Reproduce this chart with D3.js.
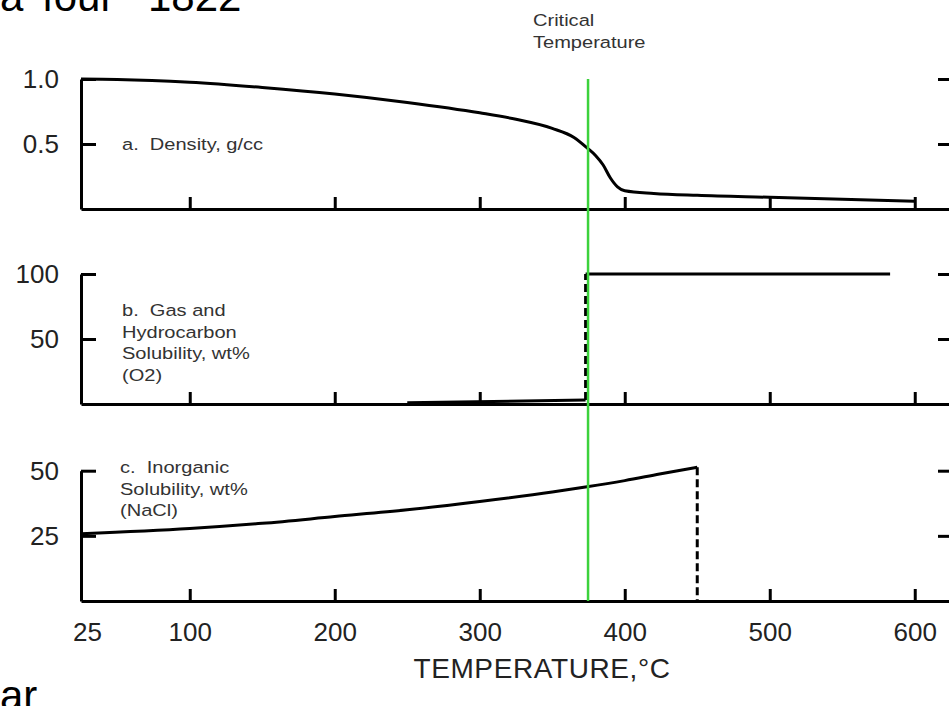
<!DOCTYPE html>
<html>
<head>
<meta charset="utf-8">
<script src="https://cdn.jsdelivr.net/npm/d3@7"></script>
<style>
body{margin:0;background:#fff}
svg{display:block}
text{font-family:"Liberation Sans",Arial,sans-serif}
</style>
</head>
<body>
<svg id="chart" width="949" height="706"></svg>
<script>
// temperatures, deg C
const xTicks = [25, 100, 200, 300, 400, 500, 600];
const critTemp = 374;

// a. density, g/cc
const densTemps = [25, 50, 100, 150, 200, 250, 300, 325, 350, 365, 374, 380, 385, 390, 395, 400, 420, 450, 500, 550, 600];
const densVals  = [1.00, 0.997, 0.975, 0.935, 0.885, 0.82, 0.74, 0.69, 0.62, 0.55, 0.47, 0.41, 0.34, 0.24, 0.17, 0.14, 0.12, 0.105, 0.09, 0.075, 0.06];

// b. gas solubility, wt%
const gasLowTemps = [250, 373];
const gasLowVals  = [1, 3];
const gasHighTemps = [373, 583];
const gasHighVals  = [100, 100];

// c. NaCl solubility, wt%
const naclTemps = [25, 100, 150, 200, 250, 300, 350, 374, 400, 424, 450];
const naclVals  = [25.8, 27.8, 29.8, 32.4, 35, 38.2, 41.8, 43.8, 46.2, 48.7, 51.3];

const svg = d3.select("#chart");

var x = d3.scaleLinear().domain([25, 625]).range([81, 951]);

var panels = [
	{top: 79,  bottom: 209, max: 1.0, ticks: [0.5, 1.0], fmt: d3.format(".1f")},
	{top: 274, bottom: 404, max: 100, ticks: [50, 100],  fmt: d3.format("d")},
	{top: 470.7, bottom: 601, max: 50, ticks: [25, 50],  fmt: d3.format("d")}
];

function styleAxis(g){
	g.attr("font-family", null).attr("font-size", null);
	g.selectAll("path,line").attr("stroke", "#000").attr("stroke-width", 3);
	g.selectAll("text").attr("font-size", 26).attr("fill", "#222");
}

panels.forEach(function(p, i){
	p.y = d3.scaleLinear().domain([0, p.max]).range([p.bottom, p.top]);

	svg.append("g")
		.attr("transform", "translate(" + x(25) + ",0)")
		.call(d3.axisLeft(p.y).tickValues(p.ticks).tickSizeInner(-15).tickSizeOuter(0).tickPadding(22).tickFormat(p.fmt))
		.call(styleAxis);

	svg.append("g")
		.attr("transform", "translate(" + x(625) + ",0)")
		.call(d3.axisRight(p.y).tickValues(p.ticks).tickSizeInner(-13).tickSizeOuter(0).tickFormat(""))
		.call(styleAxis);

	var bx = d3.axisBottom(x).tickValues(xTicks).tickSizeInner(-12).tickSizeOuter(0).tickPadding(22);
	if (i < 2) bx.tickFormat("");
	var gx = svg.append("g")
		.attr("transform", "translate(0," + p.bottom + ")")
		.call(bx)
		.call(styleAxis);
	gx.selectAll(".tick text").filter(function(d){ return d == 25; }).attr("dx", 6);
});

function drawLine(p, xs, ys, curve, dash){
	var line = d3.line()
		.x(function(d){ return x(d[0]); })
		.y(function(d){ return p.y(d[1]); })
		.curve(curve || d3.curveLinear);
	svg.append("path")
		.datum(d3.zip(xs, ys))
		.attr("d", line)
		.attr("fill", "none")
		.attr("stroke", "#000")
		.attr("stroke-width", 3)
		.attr("stroke-dasharray", dash || null);
}

// a
drawLine(panels[0], densTemps, densVals, d3.curveMonotoneX);
// b
drawLine(panels[1], gasLowTemps, gasLowVals);
drawLine(panels[1], [gasLowTemps[1], gasHighTemps[0]], [gasLowVals[1], gasHighVals[0]], null, "8,4");
drawLine(panels[1], gasHighTemps, gasHighVals);
// c
drawLine(panels[2], naclTemps, naclVals, d3.curveMonotoneX);
drawLine(panels[2], [naclTemps[naclTemps.length-1], naclTemps[naclTemps.length-1]], [naclVals[naclVals.length-1], 0], null, "8,4");

// critical temperature marker
svg.append("line")
	.attr("x1", x(critTemp) + 1).attr("x2", x(critTemp) + 1)
	.attr("y1", panels[0].top).attr("y2", panels[2].bottom)
	.attr("stroke", "#3cd23c")
	.attr("stroke-width", 2.5);

function note(lines, px, py, lh){
	var t = svg.append("text")
		.attr("transform", "translate(" + px + "," + py + ") scale(1.18,1)")
		.attr("font-size", 17)
		.attr("fill", "#333")
		.style("white-space", "pre");
	lines.forEach(function(s, k){
		t.append("tspan").attr("x", 0).attr("y", k*lh).text(s);
	});
}

note(["a.  Density, g/cc"], 122, 150, 21.6);
note(["b.  Gas and", "Hydrocarbon", "Solubility, wt%", "(O2)"], 122, 316, 21.6);
note(["c.  Inorganic", "Solubility, wt%", "(NaCl)"], 120, 473, 21.6);
note(["Critical", "Temperature"], 533, 26, 22);

svg.append("text")
	.attr("x", 542).attr("y", 678)
	.attr("text-anchor", "middle")
	.attr("font-size", 28)
	.attr("letter-spacing", 0.6)
	.attr("fill", "#222")
	.text("TEMPERATURE,°C");

// cropped slide text around the figure
var headText = svg.append("text").attr("y", 11).attr("font-size", 42).attr("fill", "#000");
headText.append("tspan").attr("x", 0).text("a");
headText.append("tspan").attr("x", 42).text("four");
headText.append("tspan").attr("x", 148).text("1822");

svg.append("text")
	.attr("x", 0).attr("y", 710)
	.attr("font-size", 42)
	.attr("fill", "#000")
	.text("ar");
</script>
</body>
</html>
